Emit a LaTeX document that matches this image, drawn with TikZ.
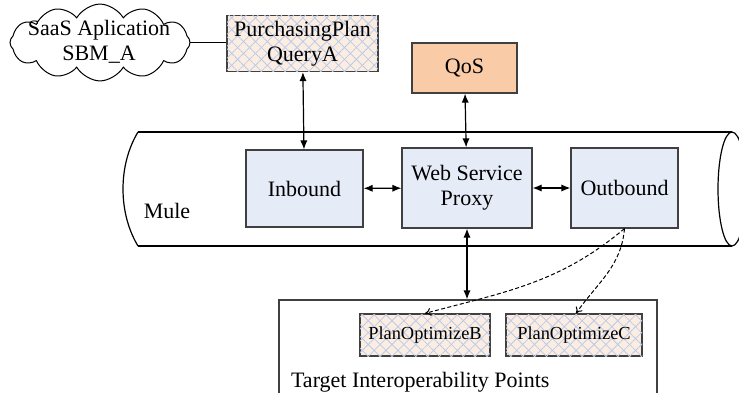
\documentclass[tikz,border=0pt]{standalone}
\usepackage{fontspec}
\setmainfont{Liberation Serif}
\usetikzlibrary{shapes.symbols,patterns.meta,arrows.meta}

\definecolor{boxblue}{HTML}{E6ECF7}
\definecolor{qospeach}{HTML}{F9CBA7}
\definecolor{hatchpeach}{HTML}{FCEDE3}
\definecolor{hatchblue}{HTML}{B8CBE8}
\definecolor{edgegray}{HTML}{404040}

\tikzstyle{block}=[rectangle,draw=edgegray,line width=0.6pt,fill=boxblue,align=center,inner sep=0pt,font=\fontsize{11}{12.5}\selectfont]
\tikzstyle{point}=[block,fill=hatchpeach,postaction={pattern={Lines[angle=45,distance=4.2pt,line width=0.4pt]},pattern color=hatchblue},postaction={pattern={Lines[angle=-45,distance=4.2pt,line width=0.4pt]},pattern color=hatchblue}]
\tikzstyle{link} = [draw,line width=0.6pt,{Latex[length=4.5pt,width=3.6pt]}-{Latex[length=4.5pt,width=3.6pt]}]
\tikzstyle{route} = [draw,line width=0.5pt,dashed,dash pattern=on 2pt off 1.2pt,-{To[length=3pt,width=4pt]}]

\begin{document}
\begin{tikzpicture}[x=0.5pt,y=-0.5pt]
	\useasboundingbox (0,0) rectangle (739,392);
	\clip (0,0) rectangle (739,392);
			% Mule bus as a tube
			\draw[line width=0.6pt] (138,132) -- (732,132);
			\draw[line width=0.6pt] (138,246) -- (732,246);
			\draw[line width=0.6pt] (138,132) .. controls (118,165) and (118,213) .. (138,246);
			\draw[line width=0.6pt] (732,189) ellipse [x radius=14,y radius=57];
			\node[font=\fontsize{11}{12.5}\selectfont] (mule) at (167,211) {Mule};
			\node[draw,cloud,cloud puffs=12,cloud puff arc=110,aspect=2.6,line width=0.5pt,minimum width=90pt,minimum height=34pt,inner sep=0pt,yscale=1.13,transform shape] (saas) at (100,42.5) {};
			\node[align=center,inner sep=0pt,font=\fontsize{11}{12.5}\selectfont] (saastext) at (99,42) {SaaS Aplication\\SBM\_A};
			\node[point,minimum width=75.5pt,minimum height=28pt] (query) at (302.5,43.5) {PurchasingPlan\\QueryA};
			\node[block,fill=qospeach,minimum width=52.5pt,minimum height=25pt] (qos) at (464.5,68) {QoS};
			\node[block,minimum width=58.5pt,minimum height=38.5pt] (in) at (304.5,188.5) {Inbound};
			\node[block,minimum width=65pt,minimum height=40pt] (proxy) at (467,188) {Web Service\\Proxy};
			\node[block,minimum width=53.5pt,minimum height=40pt] (out) at (624.5,188) {Outbound};
			\node[block,fill=white,minimum width=189pt,minimum height=50pt] (target) at (468,350) {};
			\node[anchor=base west,font=\fontsize{11}{12.5}\selectfont] (tlabel) at (284,387) {Target Interoperability Points};
			\node[point,font=\fontsize{9.2}{11}\selectfont,minimum width=65pt,minimum height=21pt] (planb) at (425,335) {PlanOptimizeB};
			\node[point,font=\fontsize{9.2}{11}\selectfont,minimum width=68pt,minimum height=21pt] (planc) at (574,335) {PlanOptimizeC};
	    		% Connect the blocks
			\draw[line width=0.6pt] (saas.east) -- (saas.east -| query.west);
			\foreach \source/ \dest in {query/in, qos/proxy, in/proxy, proxy/out}
			 \path[link] (\source) -- (\dest);
			\path[link] (proxy.south) -- (proxy.south |- target.north);
	   		 % Dashed routes to the targets
			\path[route] (out.south) to[out=-140,in=15] (planb.north);
			\path[route] (out.south) to[out=-95,in=55] ([xshift=1pt]planc.north);
		\end{tikzpicture}
\end{document}
